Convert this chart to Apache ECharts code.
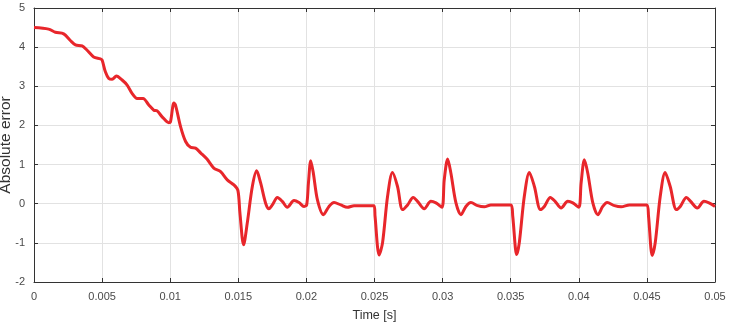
<!DOCTYPE html>
<html>
<head>
<meta charset="utf-8">
<script src="https://cdn.jsdelivr.net/npm/echarts@6/dist/echarts.min.js"></script>
<style>
  html, body { margin: 0; padding: 0; background: #fff; }
  #chart { width: 732px; height: 325px; }
</style>
</head>
<body>
<div id="chart"></div>
<script>
// data
const time = [
  0, 0.00107, 0.00157, 0.00218, 0.00267, 0.00304, 0.00353, 0.0039, 0.00438, 0.00488,
  0.005, 0.00524, 0.00549, 0.00574, 0.00605, 0.00647, 0.00684, 0.0072, 0.00757, 0.00801,
  0.00843, 0.0088, 0.00904, 0.00941, 0.0099, 0.01002, 0.01027, 0.01039, 0.01076, 0.01113,
  0.01149, 0.01186, 0.01223, 0.0127, 0.0132, 0.0137, 0.01419, 0.01468, 0.01497, 0.01512,
  0.01539, 0.01566, 0.01603, 0.01635, 0.01664, 0.017, 0.01725, 0.0175, 0.01787, 0.01823,
  0.0186, 0.01909, 0.01946, 0.01982, 0.02002, 0.02015, 0.02032, 0.02051, 0.02081, 0.02125,
  0.02166, 0.02203, 0.02252, 0.02301, 0.0235, 0.02497, 0.02504, 0.02534, 0.02559, 0.02596,
  0.02632, 0.02669, 0.02706, 0.02743, 0.02784, 0.02816, 0.02865, 0.02914, 0.02951, 0.02995,
  0.03012, 0.03037, 0.03061, 0.03098, 0.03135, 0.03171, 0.03208, 0.03257, 0.03306, 0.03355,
  0.03502, 0.03515, 0.03544, 0.03563, 0.036, 0.03637, 0.03674, 0.03718, 0.03747, 0.03791,
  0.03826, 0.0387, 0.03919, 0.03956, 0.04, 0.04017, 0.04041, 0.04066, 0.04103, 0.0414,
  0.04176, 0.04208, 0.04262, 0.04311, 0.04372, 0.045, 0.04512, 0.04539, 0.04561, 0.04598,
  0.04634, 0.04671, 0.04716, 0.04745, 0.0479, 0.04821, 0.0487, 0.04919, 0.04956, 0.05
];
const absError = [
  4.50, 4.46, 4.38, 4.34, 4.17, 4.06, 4.03, 3.92, 3.75, 3.70,
  3.67, 3.37, 3.20, 3.18, 3.26, 3.16, 3.03, 2.82, 2.69, 2.69,
  2.52, 2.39, 2.37, 2.22, 2.07, 2.09, 2.57, 2.52, 1.97, 1.59,
  1.44, 1.42, 1.30, 1.14, 0.91, 0.82, 0.61, 0.48, 0.34, -0.24,
  -1.05, -0.49, 0.44, 0.84, 0.53, 0.02, -0.13, -0.03, 0.16, 0.06,
  -0.09, 0.08, 0.03, -0.07, -0.03, 0.53, 1.10, 0.78, 0.10, -0.28,
  -0.07, 0.03, -0.03, -0.09, -0.05, -0.05, -0.32, -1.31, -1.0, 0.19,
  0.80, 0.44, -0.15, -0.03, 0.16, 0.06, -0.13, 0.06, 0.02, -0.09,
  0.61, 1.14, 0.78, 0.02, -0.28, -0.07, 0.03, -0.05, -0.08, -0.03,
  -0.03, -0.32, -1.30, -1.0, 0.19, 0.80, 0.44, -0.15, -0.07, 0.16,
  0.06, -0.11, 0.06, 0.02, -0.09, 0.53, 1.12, 0.78, 0.02, -0.28,
  -0.07, 0.03, -0.05, -0.08, -0.03, -0.03, -0.32, -1.32, -1.0, 0.19,
  0.80, 0.44, -0.15, -0.07, 0.16, 0.06, -0.11, 0.06, 0.02, -0.07
];

const chart = echarts.init(document.getElementById('chart'));
const textColor = '#4a4a4a';
const axisColor = '#333';
const gridColor = '#e2e2e2';

const seriesData = time.map((t, i) => [t, absError[i]]);

const option = {
  animation: false,
  grid: { left: 34, right: 17, top: 8, bottom: 43, outerBoundsMode: 'none' },
  xAxis: [
    {
      type: 'value',
      min: 0, max: 0.05, interval: 0.005,
      name: 'Time [s]',
      nameLocation: 'middle',
      nameGap: 27,
      nameMoveOverlap: false,
      nameTextStyle: { color: '#333', fontSize: 12.5, fontFamily: 'Liberation Sans' },
      axisLine: { show: true, onZero: false, lineStyle: { color: axisColor } },
      axisTick: { show: true, inside: true, length: 4, lineStyle: { color: axisColor } },
      axisLabel: {
        color: textColor, fontSize: 11, fontFamily: 'Liberation Sans', margin: 9,
        formatter: v => String(+v.toFixed(3))
      },
      splitLine: { show: true, lineStyle: { color: gridColor } }
    },
    {
      type: 'value', position: 'top',
      min: 0, max: 0.05, interval: 0.005,
      axisLine: { show: true, onZero: false, lineStyle: { color: axisColor } },
      axisTick: { show: true, inside: true, length: 4, lineStyle: { color: axisColor } },
      axisLabel: { show: false },
      splitLine: { show: false }
    }
  ],
  yAxis: [
    {
      type: 'value',
      min: -2, max: 5, interval: 1,
      name: 'Absolute error',
      nameLocation: 'middle',
      nameGap: 20,
      nameMoveOverlap: false,
      nameTextStyle: { color: '#333', fontSize: 15.5, fontFamily: 'Liberation Sans' },
      axisLine: { show: true, onZero: false, lineStyle: { color: axisColor } },
      axisTick: { show: true, inside: true, length: 4, lineStyle: { color: axisColor } },
      axisLabel: { color: textColor, fontSize: 11, fontFamily: 'Liberation Sans', margin: 9 },
      splitLine: { show: true, lineStyle: { color: gridColor } }
    },
    {
      type: 'value', position: 'right',
      min: -2, max: 5, interval: 1,
      axisLine: { show: true, onZero: false, lineStyle: { color: axisColor } },
      axisTick: { show: true, inside: true, length: 4, lineStyle: { color: axisColor } },
      axisLabel: { show: false },
      splitLine: { show: false }
    }
  ],
  series: [
    {
      type: 'line',
      data: seriesData,
      smooth: 0.3,
      showSymbol: false,
      lineStyle: { color: '#e8262b', width: 3 },
      color: '#e8262b'
    }
  ]
};
chart.setOption(option);
</script>
</body>
</html>
